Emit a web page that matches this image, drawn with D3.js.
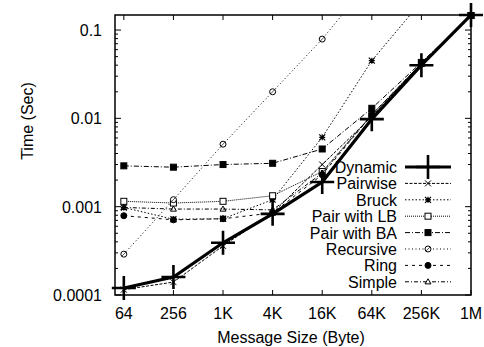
<!DOCTYPE html>
<html>
<head>
<meta charset="utf-8">
<script src="https://cdn.jsdelivr.net/npm/d3@7"></script>
<style>
  body { margin: 0; background: #fff; }
  text { font-family: "Liberation Sans", Arial, sans-serif; fill: #000; }
</style>
</head>
<body>
<div id="chart"></div>
<script>
// message sizes (bytes) and their tick labels
const sizes = [64, 256, 1024, 4096, 16384, 65536, 262144, 1048576];
const sizeLabels = ["64", "256", "1K", "4K", "16K", "64K", "256K", "1M"];
const yTicks = [0.0001, 0.001, 0.01, 0.1];

// times in seconds
const dynamic   = [0.00012, 0.00016, 0.00039, 0.00083, 0.0019, 0.0098, 0.040, 0.148];
const pairwise  = [0.000115, 0.00014, 0.00036, 0.00085, 0.0030, 0.0105, 0.042, 0.146];
const bruck     = [0.00098, 0.00072, 0.00073, 0.0012, 0.0061, 0.045, 0.21];
const pairLB    = [0.00115, 0.0011, 0.00115, 0.00133, 0.0025, 0.011, 0.042, 0.146];
const pairBA    = [0.0029, 0.0028, 0.0030, 0.0031, 0.0045, 0.013, 0.043, 0.146];
const recursive = [0.00029, 0.0012, 0.0051, 0.020, 0.079, 0.38];
const ring      = [0.00079, 0.00071, 0.00073, 0.00085, 0.0023, 0.011, 0.041, 0.145];
const simple    = [0.00098, 0.00094, 0.00094, 0.00092, 0.0024, 0.011, 0.042, 0.145];

const series = [
  { name: "Dynamic",      values: dynamic,   marker: "bigplus",  dash: null,          width: 3.2 },
  { name: "Pairwise",     values: pairwise,  marker: "cross",    dash: "3,1.5",       width: 1 },
  { name: "Bruck",        values: bruck,     marker: "star",     dash: "1.5,2",       width: 1 },
  { name: "Pair with LB", values: pairLB,    marker: "square",   dash: "1,1",         width: 1 },
  { name: "Pair with BA", values: pairBA,    marker: "fsquare",  dash: "5,2,1,2",     width: 1 },
  { name: "Recursive",    values: recursive, marker: "circle",   dash: "1,2.5",       width: 1 },
  { name: "Ring",         values: ring,      marker: "fcircle",  dash: "3,4",         width: 1 },
  { name: "Simple",       values: simple,    marker: "triangle", dash: "4,2,1,2",     width: 1 }
];

const width = 484;
const height = 347;
const margin = { top: 15, right: 13, bottom: 52, left: 115 };

const svg = d3.select("#chart").append("svg")
  .attr("width", width)
  .attr("height", height);

const x = d3.scaleLog()
  .domain([50, 1048576])
  .range([margin.left, width - margin.right]);

const y = d3.scaleLog()
  .domain([0.0001, 0.148])
  .range([height - margin.bottom, margin.top]);

const x0 = margin.left, x1 = width - margin.right;
const y0 = height - margin.bottom, y1 = margin.top;

function label(px, py, str, anchor, rot) {
  return svg.append("text")
    .attr("transform", `translate(${px},${py})` + (rot ? " rotate(-90)" : ""))
    .attr("text-anchor", anchor)
    .attr("font-size", "16px")
    .text(str);
}

svg.append("clipPath").attr("id", "plot-clip")
  .append("rect")
  .attr("x", x0).attr("y", y1)
  .attr("width", x1 - x0).attr("height", y0 - y1);

// ticks (mirrored on all four sides)
const tickG = svg.append("g").attr("stroke", "#000").attr("stroke-width", 1);
sizes.forEach(s => {
  tickG.append("line").attr("x1", x(s)).attr("x2", x(s)).attr("y1", y0).attr("y2", y0 - 5);
  tickG.append("line").attr("x1", x(s)).attr("x2", x(s)).attr("y1", y1).attr("y2", y1 + 5);
});
const minor = [];
[0.0001, 0.001, 0.01, 0.1].forEach(d => {
  for (let k = 1; k < 10; k++) {
    const v = d * k;
    if (v <= y.domain()[1]) minor.push({ v, major: k === 1 });
  }
});
minor.forEach(m => {
  const len = m.major ? 6 : 3;
  tickG.append("line").attr("x1", x0).attr("x2", x0 + len).attr("y1", y(m.v)).attr("y2", y(m.v));
  tickG.append("line").attr("x1", x1).attr("x2", x1 - len).attr("y1", y(m.v)).attr("y2", y(m.v));
});

// tick labels
sizes.forEach((d, i) => label(x(d), y0 + 24, sizeLabels[i], "middle"));
yTicks.forEach(d => label(x0 - 13, y(d) + 6, String(d), "end"));

// axis titles
label((x0 + x1) / 2 - 2, 343, "Message Size (Byte)", "middle");
label(33, 121, "Time (Sec)", "middle", true);

// markers
function drawMarker(g, type, cx, cy) {
  const s = 3;
  const st = { stroke: "#000", "stroke-width": 1, fill: "none" };
  const apply = (sel, extra) => { Object.entries(Object.assign({}, st, extra || {})).forEach(([k, v]) => sel.attr(k, v)); return sel; };
  if (type === "bigplus") {
    apply(g.append("path"), { "stroke-width": 2.6 })
      .attr("d", `M${cx - 12},${cy}H${cx + 12}M${cx},${cy - 12}V${cy + 12}`);
  } else if (type === "cross") {
    apply(g.append("path")).attr("d", `M${cx - s},${cy - s}L${cx + s},${cy + s}M${cx - s},${cy + s}L${cx + s},${cy - s}`);
  } else if (type === "star") {
    apply(g.append("path"), { "stroke-width": 1.2 })
      .attr("d", `M${cx - s},${cy - s}L${cx + s},${cy + s}M${cx - s},${cy + s}L${cx + s},${cy - s}M${cx - s},${cy}H${cx + s}M${cx},${cy - s}V${cy + s}`);
  } else if (type === "square") {
    apply(g.append("rect")).attr("x", cx - s).attr("y", cy - s).attr("width", 2 * s).attr("height", 2 * s).attr("fill", "#fff");
  } else if (type === "fsquare") {
    apply(g.append("rect"), { fill: "#000" }).attr("x", cx - s).attr("y", cy - s).attr("width", 2 * s).attr("height", 2 * s);
  } else if (type === "circle") {
    apply(g.append("circle"), { fill: "#fff" }).attr("cx", cx).attr("cy", cy).attr("r", s);
    apply(g.append("path"), { "stroke-width": 0.7 }).attr("d", `M${cx - 2},${cy + 2}L${cx + 2},${cy - 2}`);
  } else if (type === "fcircle") {
    apply(g.append("circle"), { fill: "#000" }).attr("cx", cx).attr("cy", cy).attr("r", s);
  } else if (type === "triangle") {
    apply(g.append("path")).attr("d", `M${cx},${cy - s}L${cx + s},${cy + s * 0.7}L${cx - s},${cy + s * 0.7}Z`);
  }
}

const line = d3.line()
  .x((d, i) => x(sizes[i]))
  .y(d => y(d));

// draw thin series first, Dynamic last on top
const order = series.slice(1).concat(series[0]);
order.forEach(sr => {
  const g = svg.append("g");
  g.append("path")
    .datum(sr.values)
    .attr("clip-path", "url(#plot-clip)")
    .attr("fill", "none")
    .attr("stroke", "#000")
    .attr("stroke-width", sr.width)
    .attr("stroke-dasharray", sr.dash)
    .attr("d", line);
  sr.values.forEach((v, i) => {
    if (v <= y.domain()[1] * 1.01) drawMarker(g, sr.marker, x(sizes[i]), y(v));
  });
});

// legend
const legY0 = 167, legStep = 16.4;
series.forEach((sr, i) => {
  const ly = legY0 + i * legStep;
  label(397, ly + 6, sr.name, "end");
  svg.append("line")
    .attr("x1", 405).attr("x2", 451)
    .attr("y1", ly).attr("y2", ly)
    .attr("stroke", "#000")
    .attr("stroke-width", sr.width)
    .attr("stroke-dasharray", sr.dash);
  drawMarker(svg.append("g"), sr.marker, 428, ly);
});

// frame
svg.append("rect")
  .attr("x", x0).attr("y", y1)
  .attr("width", x1 - x0).attr("height", y0 - y1)
  .attr("fill", "none")
  .attr("stroke", "#000")
  .attr("stroke-width", 1.5);
</script>
</body>
</html>
